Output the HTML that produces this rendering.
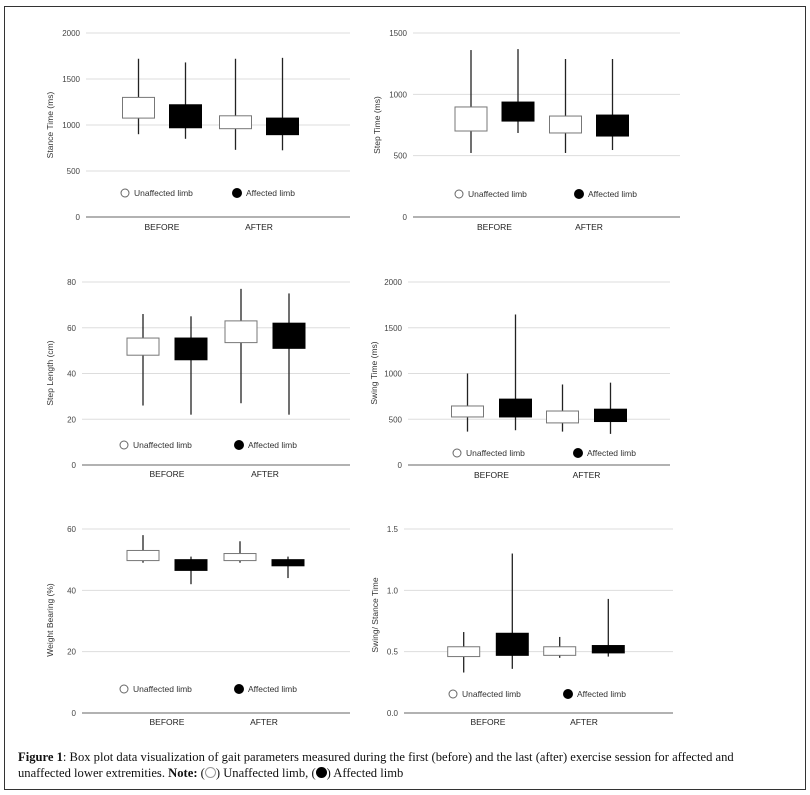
<!DOCTYPE html>
<html><head><meta charset="utf-8">
<style>
html,body{margin:0;padding:0;background:#fff;}
body{width:810px;height:795px;position:relative;overflow:hidden;font-family:"Liberation Sans",sans-serif;}
#cap{position:absolute;left:18px;top:749px;width:752px;font-family:"Liberation Serif",serif;font-size:12.6px;line-height:16px;color:#111;}
</style></head>
<body>
<svg id="chart" width="810" height="795" style="position:absolute;left:0;top:0">
<rect x="4.5" y="6.5" width="801" height="783" fill="none" stroke="#333" stroke-width="1"/>
</svg>
<div id="cap"><b>Figure 1</b>: Box plot data visualization of gait parameters measured during the first (before) and the last (after) exercise session for affected and unaffected lower extremities. <b>Note:</b> (<span style="display:inline-block;width:9px;height:9px;border:1.5px solid #999;border-radius:50%;vertical-align:-1px"></span>) Unaffected limb, (<span style="display:inline-block;width:11px;height:11px;background:#000;border-radius:50%;vertical-align:-1px"></span>) Affected limb</div>
<script>
// order: BEFORE-unaffected, BEFORE-affected, AFTER-unaffected, AFTER-affected
const categories = ["BEFORE", "AFTER"];
const seriesNames = ["Unaffected limb", "Affected limb"];
const stanceMax = [1720, 1680, 1720, 1730];
const stanceQ3  = [1300, 1220, 1100, 1075];
const stanceQ1  = [1075, 970, 960, 895];
const stanceMin = [900, 850, 730, 725];
const stanceTicks = [0, 500, 1000, 1500, 2000];
const stepTimeMax = [1361, 1369, 1288, 1288];
const stepTimeQ3  = [897, 937, 823, 831];
const stepTimeQ1  = [701, 782, 685, 660];
const stepTimeMin = [522, 685, 522, 546];
const stepTimeTicks = [0, 500, 1000, 1500];
const stepLenMax = [66, 65, 77, 75];
const stepLenQ3  = [55.5, 55.5, 63, 62];
const stepLenQ1  = [48, 46, 53.5, 51];
const stepLenMin = [26, 22, 27, 22];
const stepLenTicks = [0, 20, 40, 60, 80];
const swingMax = [1000, 1645, 880, 900];
const swingQ3  = [645, 720, 590, 610];
const swingQ1  = [525, 525, 460, 475];
const swingMin = [365, 380, 365, 340];
const swingTicks = [0, 500, 1000, 1500, 2000];
const wbMax = [58, 51, 56, 51];
const wbQ3  = [53, 50, 52, 50];
const wbQ1  = [49.7, 46.5, 49.7, 48];
const wbMin = [49, 42, 49, 44];
const wbTicks = [0, 20, 40, 60];
const ratioMax = [0.66, 1.30, 0.62, 0.93];
const ratioQ3  = [0.54, 0.65, 0.54, 0.55];
const ratioQ1  = [0.46, 0.47, 0.47, 0.49];
const ratioMin = [0.33, 0.36, 0.45, 0.46];
const ratioTicks = ["0.0", "0.5", "1.0", "1.5"];

const NS = "http://www.w3.org/2000/svg";
const svg = document.getElementById("chart");
function mk(tag, attrs, parent) {
  const e = document.createElementNS(NS, tag);
  for (const k in attrs) e.setAttribute(k, attrs[k]);
  (parent || svg).appendChild(e);
  return e;
}
function panel(name, title, ticks, maxA, q3A, q1A, minA, L) {
  const g = mk("g", {});
  
  
  const vMax = parseFloat(ticks[ticks.length - 1]);
  const y = v => L.y0 - (v / vMax) * (L.y0 - L.yTop);
  ticks.forEach((t, i) => {
    const v = parseFloat(t), yy = y(v);
    const ln = mk("line", {x1: L.gx0, x2: L.gx1, y1: yy, y2: yy, stroke: i === 0 ? "#999" : "#ddd", "stroke-width": i === 0 ? 1.6 : 1}, g);
    
    
    const tx = mk("text", {x: L.gx0 - 6, y: yy + 3, "text-anchor": "end", "font-size": 8, fill: "#444"}, g);
    tx.textContent = t;
    
    
  });
  const yt = mk("text", {x: L.tx, y: L.ty, "text-anchor": "middle", "font-size": 8.5, fill: "#333", transform: "rotate(-90 " + L.tx + " " + L.ty + ")"}, g);
  yt.textContent = title;
  
  
  categories.forEach((c, ci) => {
    const ct = mk("text", {x: L.cx[ci], y: L.catY, "text-anchor": "middle", "font-size": 8.5, fill: "#222"}, g);
    ct.textContent = c;
    
    
  });
  for (let i = 0; i < maxA.length; i++) {
    const ci = Math.floor(i / 2), s = i % 2;
    const cx = L.cx[ci] + (s === 0 ? -L.off : L.off);
    const w = mk("line", {x1: cx, x2: cx, y1: y(maxA[i]), y2: y(minA[i]), stroke: "#222", "stroke-width": 1.3}, g);
    
    
    const b = mk("rect", {x: cx - 16, y: y(q3A[i]), width: 32, height: y(q1A[i]) - y(q3A[i]), fill: s === 0 ? "#fff" : "#000", stroke: s === 0 ? "#777" : "#000", "stroke-width": 1}, g);
    
    
  }
  seriesNames.forEach((sn, s) => {
    const c = mk("circle", {cx: L.lx[s], cy: L.ly, r: s === 0 ? 4 : 4.5, fill: s === 0 ? "#fff" : "#000", stroke: s === 0 ? "#666" : "#000", "stroke-width": 1}, g);
    
    
    const t = mk("text", {x: L.lx[s] + 9, y: L.ly + 3, "font-size": 8.5, fill: "#333"}, g);
    t.textContent = sn;
    
    
  });
}
panel("stance-time", "Stance Time (ms)", stanceTicks, stanceMax, stanceQ3, stanceQ1, stanceMin,
  {gx0: 86, gx1: 350, y0: 217, yTop: 33, tx: 53, ty: 125, cx: [162, 259], off: 23.5, catY: 230, lx: [125, 237], ly: 193});
panel("step-time", "Step Time (ms)", stepTimeTicks, stepTimeMax, stepTimeQ3, stepTimeQ1, stepTimeMin,
  {gx0: 413, gx1: 680, y0: 217, yTop: 33, tx: 380, ty: 125, cx: [494.5, 589], off: 23.5, catY: 230, lx: [459, 579], ly: 194});
panel("step-length", "Step Length (cm)", stepLenTicks, stepLenMax, stepLenQ3, stepLenQ1, stepLenMin,
  {gx0: 82, gx1: 350, y0: 465, yTop: 282, tx: 53, ty: 373, cx: [167, 265], off: 24, catY: 477, lx: [124, 239], ly: 445});
panel("swing-time", "Swing Time (ms)", swingTicks, swingMax, swingQ3, swingQ1, swingMin,
  {gx0: 408, gx1: 670, y0: 465, yTop: 282, tx: 377, ty: 373, cx: [491.5, 586.5], off: 24, catY: 478, lx: [457, 578], ly: 453});
panel("weight-bearing", "Weight Bearing (%)", wbTicks, wbMax, wbQ3, wbQ1, wbMin,
  {gx0: 82, gx1: 350, y0: 713, yTop: 529, tx: 53, ty: 620, cx: [167, 264], off: 24, catY: 725, lx: [124, 239], ly: 689});
panel("swing-stance-ratio", "Swing/ Stance Time", ratioTicks, ratioMax, ratioQ3, ratioQ1, ratioMin,
  {gx0: 404, gx1: 673, y0: 713, yTop: 529, tx: 378, ty: 615, cx: [488, 584], off: 24.3, catY: 725, lx: [453, 568], ly: 694});
</script>
</body></html>
